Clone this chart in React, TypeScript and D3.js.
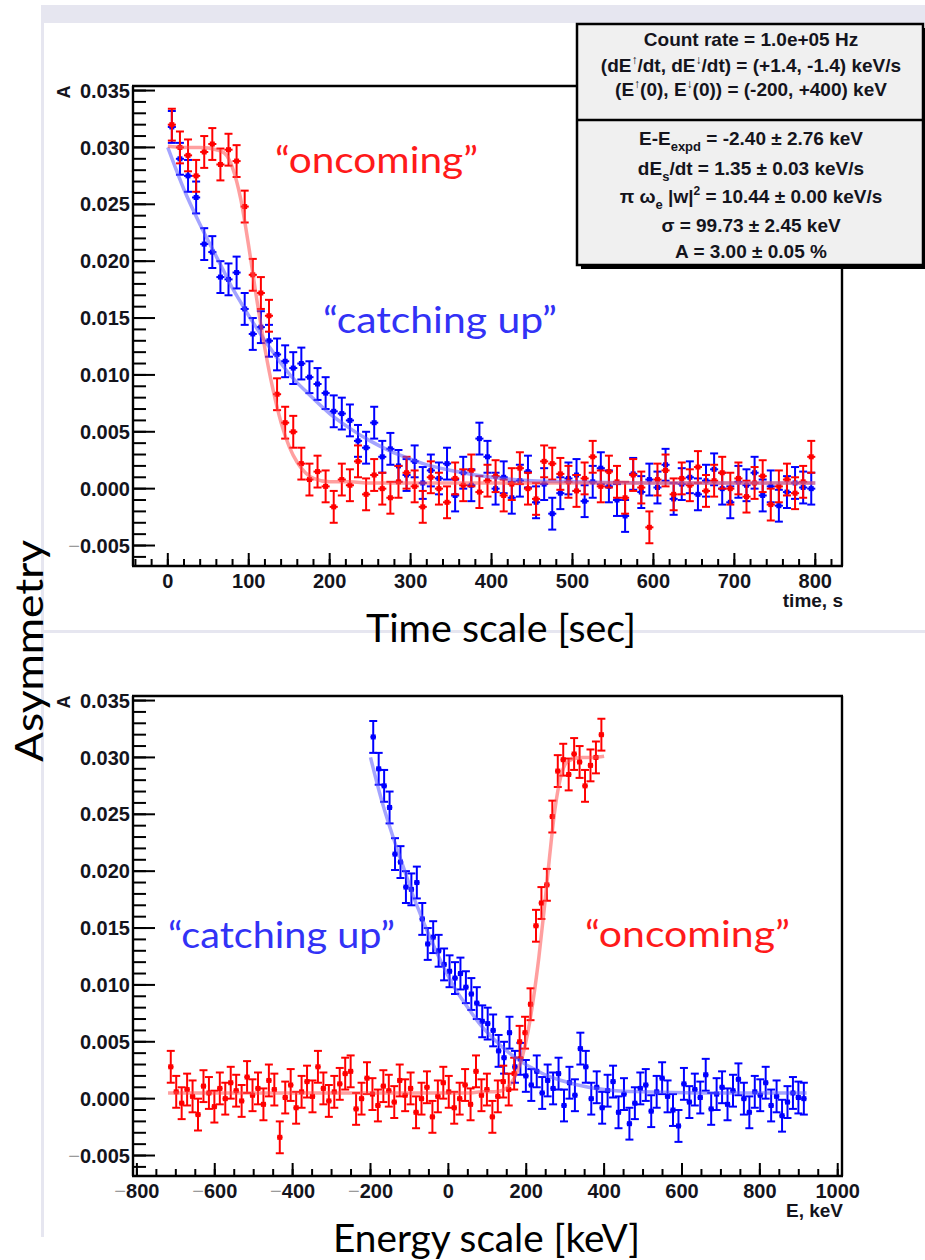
import React from "react";
import * as d3 from "d3";

// Histogram binning in time: 10 s bins covering 0..800 s
const BIN_WIDTH_S = 10;
const N_BINS = 80;
const binCentres = d3.range(N_BINS).map((k) => BIN_WIDTH_S * k + BIN_WIDTH_S / 2);

// Energy sweep of the two beams (keV, keV/s)
const E_UP_0 = -200;
const E_DOWN_0 = 400;
const DEDT_UP = 1.4;
const DEDT_DOWN = -1.4;

// Statistical error of each bin
const ASYM_ERR = 0.0014;

// Measured asymmetry per bin: "oncoming" (red)
const ONCOMING = [
  0.032, 0.03, 0.0293, 0.0275, 0.0296, 0.0303, 0.0285, 0.0298, 0.0288, 0.0248,
  0.0188, 0.0172, 0.0152, 0.0083, 0.0058, 0.005, 0.0022, 0.0008, 0.0015, 0.0002,
  -0.0016, 0.0008, 0.0003, 0.0024, -0.0005, 0.0012, 0.0, -0.0008, 0.0006, 0.0014,
  0.0002, -0.0016, 0.001, 0.0, -0.0012, 0.0009, 0.0003, 0.0016, -0.0003, 0.0007,
  0.0011, -0.0006, 0.0004, 0.0018, 0.0, -0.0009, 0.0024, 0.0022, 0.0013, 0.0006,
  -0.0002, 0.0009, 0.0028, 0.0002, 0.0015, 0.0006, -0.0008, 0.0012, 0.0001, -0.0034,
  0.0008, 0.0016, -0.0005, 0.0009, 0.0003, 0.0019, -0.0002, 0.0007, 0.0014, 0.0,
  0.0009, -0.0007, 0.0005, 0.0011, -0.0014, 0.0002, 0.0008, -0.0004, 0.0006, 0.0028,
];

// Measured asymmetry per bin: "catching up" (blue)
const CATCHING_UP = [
  0.0318, 0.029, 0.0275, 0.0256, 0.0215, 0.0208, 0.0186, 0.0184, 0.019, 0.0158,
  0.0136, 0.0142, 0.013, 0.0118, 0.0112, 0.0106, 0.011, 0.0098, 0.0092, 0.0084,
  0.0068, 0.0066, 0.006, 0.0042, 0.0036, 0.0058, 0.0028, 0.0035, 0.002, 0.0012,
  0.0024, 0.0005, 0.0016, 0.0009, 0.0022, -0.0006, 0.0014, 0.0003, 0.0044, 0.0028,
  0.0, 0.001, -0.0008, 0.0007, 0.0015, -0.0012, 0.0004, -0.0022, -0.0004, 0.0009,
  0.0012, -0.0011, 0.0006, 0.0018, 0.0002, -0.001, -0.0024, 0.0013, -0.0003, 0.0008,
  0.0001, 0.0021, -0.0009, 0.0004, 0.001, -0.0005, 0.0007, 0.0017, 0.0, -0.0012,
  0.0006, 0.0003, 0.0014, -0.0006, 0.0002, -0.0015, -0.0003, 0.0005, 0.0001, 0.0,
];

// Fitted model sampled in time
const FIT_T = [0, 20, 40, 60, 70, 80, 90, 100, 110, 120, 130, 140, 150, 160, 170, 180, 200, 225, 250, 275, 300, 325, 350, 400, 450, 500, 600, 700, 800];
const ONCOMING_FIT = [0.0301, 0.03, 0.03, 0.0298, 0.0295, 0.0282, 0.0255, 0.0213, 0.0166, 0.0123, 0.0087, 0.0058, 0.0037, 0.0023, 0.0014, 0.0009, 0.0006, 0.0006, 0.0005, 0.0005, 0.0005, 0.0005, 0.0005, 0.0005, 0.0005, 0.0005, 0.0005, 0.0005, 0.0005];
const CATCHING_UP_FIT = [0.03, 0.0263, 0.0232, 0.0204, 0.019, 0.0176, 0.0164, 0.0152, 0.0141, 0.013, 0.012, 0.011, 0.0101, 0.0093, 0.0086, 0.0079, 0.0066, 0.0053, 0.0042, 0.0033, 0.0026, 0.002, 0.0016, 0.001, 0.0007, 0.0006, 0.0005, 0.0005, 0.0005];

// Axis ticks
const Y_MAJOR = [-0.005, 0, 0.005, 0.01, 0.015, 0.02, 0.025, 0.03, 0.035];
const Y_MINOR = d3.range(-6, 36).map((v) => v / 1000);
const T_MAJOR = [0, 100, 200, 300, 400, 500, 600, 700, 800];
const T_MINOR = d3.range(-40, 821, 20);
const E_MAJOR = [-800, -600, -400, -200, 0, 200, 400, 600, 800, 1000];
const E_MINOR = d3.range(-800, 1001, 50);

const STAT_TOP = ["Count rate = 1.0e+05 Hz"];

const RED = "#ff0000";
const BLUE = "#0000ff";
const AXIS_FONT = "'Liberation Sans', Arial, Helvetica, sans-serif";
const SLIDE_FONT = "Lato, 'Open Sans', sans-serif";
const SLIDE_LINE = "#e6e6f0";
const INK = "#14141c";

const X0 = 133;
const X1 = 842;

function label(v: number, digits: number) {
  const s = Math.abs(v).toFixed(digits);
  if (v < 0) {
    return (
      <>
        <tspan fill="#9a9a9a" fontWeight="normal">−</tspan>
        {s}
      </>
    );
  }
  return s;
}

type Series = { x: number[]; y: number[]; color: string };
type Fit = { x: number[]; y: number[]; color: string; opacity: number };

function Panel(props: {
  top: number;
  bottom: number;
  xDomain: [number, number];
  xMajor: number[];
  xMinor: number[];
  halfBin: number;
  series: Series[];
  fits: Fit[];
  xTitle: React.ReactNode;
  openTopRight: boolean;
}) {
  const { top, bottom, xDomain, xMajor, xMinor, halfBin, series, fits } = props;
  const x = d3.scaleLinear().domain(xDomain).range([X0, X1]);
  const y = d3.scaleLinear().domain([-0.0068, 0.0354]).range([bottom, top]);
  const line = d3
    .line<[number, number]>()
    .x((d) => x(d[0]))
    .y((d) => y(d[1]))
    .curve(d3.curveMonotoneX);

  return (
    <g>
      {/* frame */}
      <line x1={X0} x2={X0} y1={top} y2={bottom} stroke="#000" strokeWidth={2.4} />
      <line x1={X0 - 1} x2={X1 + 1} y1={bottom} y2={bottom} stroke="#000" strokeWidth={2.4} />
      <line x1={X0 - 1} x2={props.openTopRight ? 580 : X1 + 1} y1={top} y2={top} stroke="#000" strokeWidth={2.4} />
      <line x1={X1} x2={X1} y1={props.openTopRight ? 262 : top} y2={bottom} stroke="#000" strokeWidth={2.4} />

      {/* y ticks */}
      {Y_MINOR.map((v) => (
        <line key={"ym" + v} x1={X0} x2={X0 + 13} y1={y(v)} y2={y(v)} stroke="#000" strokeWidth={2} />
      ))}
      {Y_MAJOR.map((v) => (
        <line key={"yM" + v} x1={X0} x2={X0 + 22} y1={y(v)} y2={y(v)} stroke="#000" strokeWidth={2} />
      ))}
      {Y_MAJOR.map((v) => (
        <text key={"yl" + v} x={130} y={y(v)} dy="0.36em" textAnchor="end" fontSize={20} fontWeight="bold" fontFamily={AXIS_FONT} fill={INK}>
          {label(v, 3)}
        </text>
      ))}
      <text transform={`translate(70,${top + 6}) rotate(-90)`} textAnchor="middle" fontSize={18} fontWeight="bold" fontFamily={AXIS_FONT} fill={INK}>
        A
      </text>

      {/* x ticks */}
      {xMinor.map((v) => (
        <line key={"xm" + v} x1={x(v)} x2={x(v)} y1={bottom} y2={bottom - 7} stroke="#000" strokeWidth={2} />
      ))}
      {xMajor.map((v) => (
        <line key={"xM" + v} x1={x(v)} x2={x(v)} y1={bottom} y2={bottom - 13} stroke="#000" strokeWidth={2} />
      ))}
      {xMajor.map((v) => (
        <text key={"xl" + v} x={x(v)} y={bottom + 22} textAnchor="middle" fontSize={20} fontWeight="bold" fontFamily={AXIS_FONT} fill={INK}>
          {label(v, 0)}
        </text>
      ))}
      <text x={843} y={bottom + 41} textAnchor="end" fontSize={19} fontWeight="bold" fontFamily={AXIS_FONT} fill={INK}>
        {props.xTitle}
      </text>

      {/* data points with error bars */}
      {series.map((s, si) => (
        <g key={"s" + si} stroke={s.color} strokeWidth={2} fill={s.color}>
          {s.x.map((xv, i) => {
            const px = x(xv);
            const py = y(s.y[i]);
            const yHi = y(s.y[i] + ASYM_ERR);
            const yLo = y(s.y[i] - ASYM_ERR);
            return (
              <g key={i}>
                <line x1={px} x2={px} y1={yHi} y2={yLo} />
                <line x1={px - 4} x2={px + 4} y1={yHi} y2={yHi} />
                <line x1={px - 4} x2={px + 4} y1={yLo} y2={yLo} />
                <line x1={x(xv - halfBin)} x2={x(xv + halfBin)} y1={py} y2={py} />
                <rect x={px - 2.5} y={py - 2.5} width={5} height={5} stroke="none" />
              </g>
            );
          })}
        </g>
      ))}

      {/* fitted model */}
      {fits.map((f, fi) => {
        const pts = f.x.map((xv, i) => [xv, f.y[i]] as [number, number]).sort((a, b) => a[0] - b[0]);
        return (
          <path key={"f" + fi} d={line(pts) || ""} fill="none" stroke={f.color} strokeWidth={3.5} strokeOpacity={f.opacity} strokeLinejoin="round" />
        );
      })}
    </g>
  );
}

function StatsBox() {
  const cx = 751;
  const fs = 19;
  const common = { x: cx, textAnchor: "middle" as const, fontSize: fs, fontWeight: "bold", fontFamily: AXIS_FONT, fill: INK };
  return (
    <g>
      <rect x={581} y={28} width={346} height={241} fill="#000" />
      <rect x={577} y={24} width={346} height={241} fill="#f0f0f0" stroke="#000" strokeWidth={2.5} />
      <line x1={577} x2={923} y1={120} y2={120} stroke="#000" strokeWidth={2.5} />
      <text {...common} y={46}>{STAT_TOP[0]}</text>
      <text {...common} y={72}>
        (dE<tspan dy={-8} fontSize={12}>↑</tspan>
        <tspan dy={8}>/dt, dE</tspan>
        <tspan dy={-8} fontSize={12}>↓</tspan>
        <tspan dy={8}>/dt) = (+1.4, -1.4) keV/s</tspan>
      </text>
      <text {...common} y={96}>
        (E<tspan dy={-8} fontSize={12}>↑</tspan>
        <tspan dy={8}>(0), E</tspan>
        <tspan dy={-8} fontSize={12}>↓</tspan>
        <tspan dy={8}>(0)) = (-200, +400) keV</tspan>
      </text>
      <text {...common} y={145}>
        E-E<tspan dy={6} fontSize={13}>expd</tspan>
        <tspan dy={-6}> = -2.40 ± 2.76 keV</tspan>
      </text>
      <text {...common} y={175}>
        dE<tspan dy={6} fontSize={13}>s</tspan>
        <tspan dy={-6}>/dt = 1.35 ± 0.03 keV/s</tspan>
      </text>
      <text {...common} y={203}>
        π ω<tspan dy={6} fontSize={13}>e</tspan>
        <tspan dy={-6}> |w|</tspan>
        <tspan dy={-8} fontSize={12}>2</tspan>
        <tspan dy={8}>  = 10.44 ± 0.00 keV/s</tspan>
      </text>
      <text {...common} y={232}>σ = 99.73 ± 2.45 keV</text>
      <text {...common} y={258}>A = 3.00 ± 0.05 %</text>
    </g>
  );
}

export default function App() {
  const halfT = BIN_WIDTH_S / 2;
  const eUp = binCentres.map((t) => E_UP_0 + DEDT_UP * t);
  const eDown = binCentres.map((t) => E_DOWN_0 + DEDT_DOWN * t);
  const fitEUp = FIT_T.map((t) => E_UP_0 + DEDT_UP * t);
  const fitEDown = FIT_T.map((t) => E_DOWN_0 + DEDT_DOWN * t);
  const halfE = Math.abs(DEDT_UP) * halfT;

  return (
    <svg width={925} height={1260} style={{ position: "absolute", left: 0, top: 0, background: "#fff" }}>
      <rect x={0} y={0} width={925} height={1260} fill="#fff" />
      {/* slide layout guides */}
      <rect x={41} y={5} width={884} height={18} fill={SLIDE_LINE} />
      <rect x={41} y={23} width={3} height={1214} fill={SLIDE_LINE} />
      <rect x={41} y={630} width={884} height={3} fill={SLIDE_LINE} />

      <Panel
        top={86}
        bottom={566}
        xDomain={[-43, 833]}
        xMajor={T_MAJOR}
        xMinor={T_MINOR}
        halfBin={halfT}
        series={[
          { x: binCentres, y: CATCHING_UP, color: BLUE },
          { x: binCentres, y: ONCOMING, color: RED },
        ]}
        fits={[
          { x: FIT_T, y: CATCHING_UP_FIT, color: "#5a5aff", opacity: 0.55 },
          { x: FIT_T, y: ONCOMING_FIT, color: "#ff5050", opacity: 0.55 },
        ]}
        xTitle="time, s"
        openTopRight={true}
      />

      <Panel
        top={696}
        bottom={1176}
        xDomain={[-810, 1011]}
        xMajor={E_MAJOR}
        xMinor={E_MINOR}
        halfBin={halfE}
        series={[
          { x: eUp, y: CATCHING_UP, color: BLUE },
          { x: eDown, y: ONCOMING, color: RED },
        ]}
        fits={[
          { x: fitEUp, y: CATCHING_UP_FIT, color: "#5a5aff", opacity: 0.55 },
          { x: fitEDown, y: ONCOMING_FIT, color: "#ff5050", opacity: 0.55 },
        ]}
        xTitle="E, keV"
        openTopRight={false}
      />

      <StatsBox />

      {/* annotations */}
      <g fontFamily={SLIDE_FONT} fontSize={36}>
        <text x={275} y={173} fill="#ff1a1a" textLength={203} lengthAdjust="spacingAndGlyphs">“oncoming”</text>
        <text x={323} y={333} fill="#3232f6" textLength={234} lengthAdjust="spacingAndGlyphs">“catching up”</text>
        <text x={168} y={948} fill="#3232f6" textLength={227} lengthAdjust="spacingAndGlyphs">“catching up”</text>
        <text x={585} y={947} fill="#ff1a1a" textLength={205} lengthAdjust="spacingAndGlyphs">“oncoming”</text>
      </g>

      {/* slide captions */}
      <g fontFamily={SLIDE_FONT} fontSize={38} fill="#000">
        <text x={366} y={642} textLength={270} lengthAdjust="spacingAndGlyphs">Time scale [sec]</text>
        <text x={333} y={1252} textLength={307} lengthAdjust="spacingAndGlyphs">Energy scale [keV]</text>
        <text transform="translate(43,651) rotate(-90)" textAnchor="middle" textLength={222} lengthAdjust="spacingAndGlyphs">
          Asymmetry
        </text>
      </g>
    </svg>
  );
}
